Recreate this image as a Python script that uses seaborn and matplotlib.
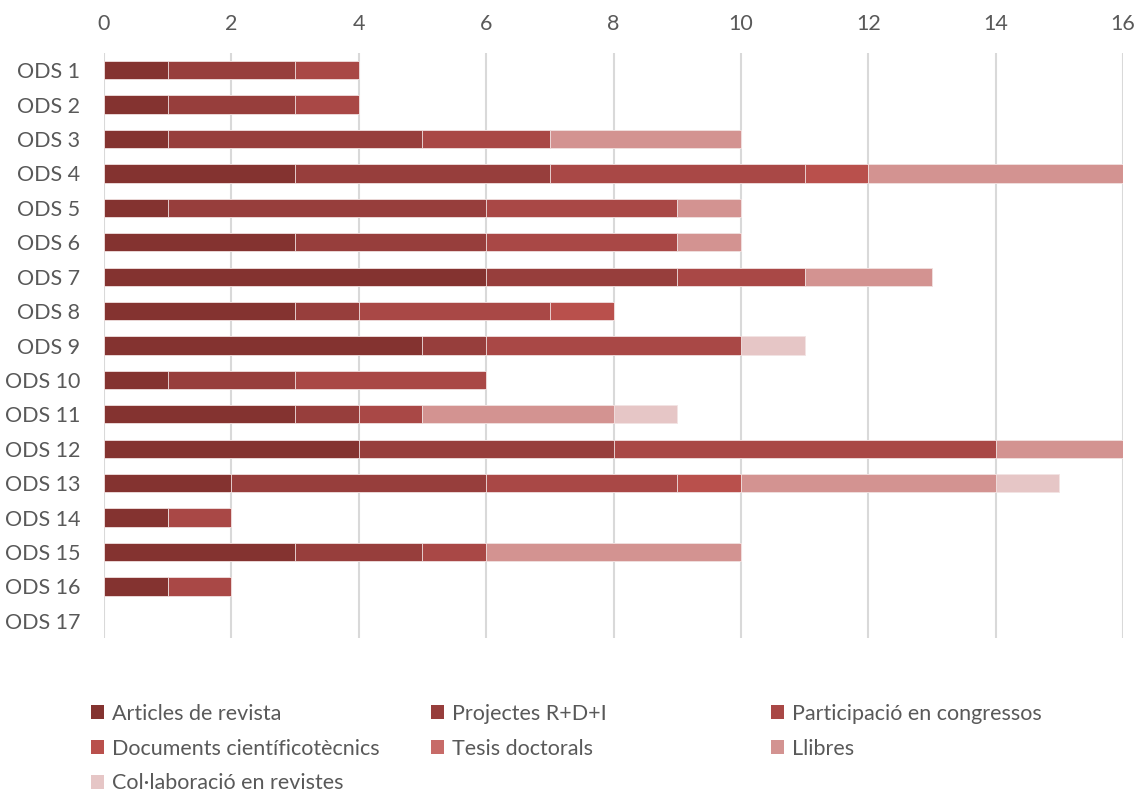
import numpy as np
import pandas as pd
import matplotlib
matplotlib.use("Agg")
import matplotlib.pyplot as plt
from matplotlib.patches import Patch
import seaborn as sns

categories = [f"ODS {i}" for i in range(1, 18)]

series = [
    "Articles de revista",
    "Projectes R+D+I",
    "Participació en congressos",
    "Documents científicotècnics",
    "Tesis doctorals",
    "Llibres",
    "Col·laboració en revistes",
]

articles      = [1, 1, 1, 3, 1, 3, 6, 3, 5, 1, 3, 4, 2, 1, 3, 1, 0]
projectes     = [2, 2, 4, 4, 5, 3, 3, 1, 1, 2, 1, 4, 4, 0, 2, 0, 0]
participacio  = [1, 1, 2, 4, 3, 3, 2, 3, 4, 3, 1, 6, 3, 1, 1, 1, 0]
documents     = [0, 0, 0, 1, 0, 0, 0, 1, 0, 0, 0, 0, 1, 0, 0, 0, 0]
tesis         = [0, 0, 0, 0, 0, 0, 0, 0, 0, 0, 0, 0, 0, 0, 0, 0, 0]
llibres       = [0, 0, 3, 4, 1, 1, 2, 0, 0, 0, 3, 2, 4, 0, 4, 0, 0]
collaboracio  = [0, 0, 0, 0, 0, 0, 0, 0, 1, 0, 1, 0, 1, 0, 0, 0, 0]

values = [articles, projectes, participacio, documents, tesis, llibres, collaboracio]

colors = ["#843330", "#973E3C", "#A94846", "#B9504C", "#C76B68", "#D39391", "#E6C6C6"]

sns.set_theme(style="white")
plt.rcParams["font.family"] = ["Lato", "DejaVu Sans"]

text_color = "#595959"
fs = 15.5

fig = plt.figure(figsize=(11.38, 7.93), dpi=100)
ax = fig.add_axes([104 / 1138, 1 - 638 / 793, (1123 - 104) / 1138, (638 - 53) / 793])

# Stacked bars: draw running totals from the longest down so each segment shows
cum = np.cumsum(np.array(values, dtype=float), axis=0)
cum[cum == 0] = np.nan  # rows with nothing to show get no bar at all
for i in range(len(series) - 1, -1, -1):
    df = pd.DataFrame({"ods": categories, "total": cum[i]})
    sns.barplot(data=df, x="total", y="ods", orient="h", color=colors[i],
                width=0.53, saturation=1, edgecolor="#F2E4E4", linewidth=0.6,
                ax=ax)

ax.set_xlim(0, 16)
ax.set_ylim(16.5, -0.5)
ax.set_xticks(range(0, 17, 2))
ax.xaxis.tick_top()
ax.set_xlabel("")
ax.set_ylabel("")
ax.grid(axis="x", color="#D9D9D9", linewidth=1.5)
ax.grid(axis="y", visible=False)
ax.set_axisbelow(True)
for s in ax.spines.values():
    s.set_visible(False)
ax.tick_params(axis="x", length=0, pad=14, labelsize=fs, colors=text_color)
ax.tick_params(axis="y", length=0, pad=17, labelsize=fs, colors=text_color)

# Legend laid out in three fixed-width columns
handles = [Patch(facecolor=c, edgecolor="none") for c in colors]
columns = [[0, 3, 6], [1, 4], [2, 5]]
col_x = [91, 431, 771]
for cx, idx in zip(col_x, columns):
    fig.legend([handles[k] for k in idx], [series[k] for k in idx],
               loc="upper left", bbox_to_anchor=(cx / 1138, 1 - 704 / 793),
               frameon=False, fontsize=fs, handlelength=0.62, handleheight=0.62,
               handletextpad=0.35, labelspacing=0.68, borderpad=0,
               borderaxespad=0, labelcolor=text_color)

fig.savefig("out.png", dpi=100)
